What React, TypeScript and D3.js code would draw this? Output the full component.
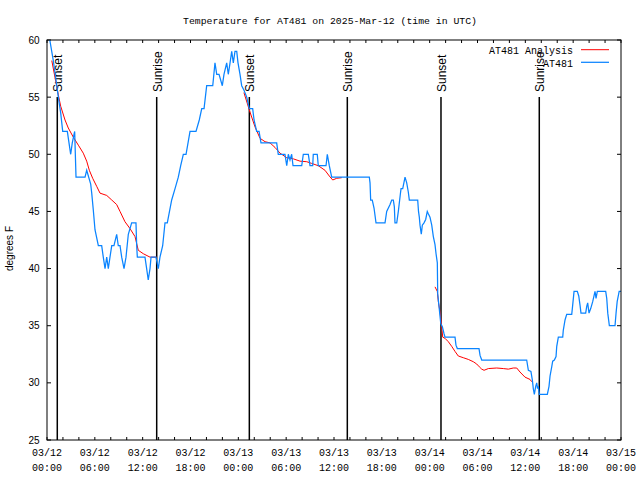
import React from 'react';
import * as d3 from 'd3';

// hours since 2025-03-12 00:00 UTC
const obsHours = [0.35,0.79,1.13,1.42,1.72,1.97,2.55,2.97,3.17,3.47,3.64,4.77,4.98,5.48,5.61,5.81,6.02,6.44,6.86,7.06,7.28,7.49,7.69,7.9,8.12,8.4,8.74,8.94,9.16,9.37,9.66,9.91,10.2,10.62,11.16,11.25,11.33,12.29,12.5,12.7,12.92,13.05,13.67,13.96,14.17,14.51,14.8,15.09,15.64,16.06,16.47,16.77,17.1,17.44,17.94,18.69,19.1,19.41,19.7,20.03,20.79,21.07,21.29,21.58,21.99,22.2,22.54,22.74,22.96,23.17,23.37,23.58,23.8,23.96,24.21,24.42,24.71,25.05,25.38,25.8,25.97,26.3,26.6,26.84,28.81,29.01,29.85,30.07,30.27,30.48,30.69,30.86,31.95,32.15,32.78,32.99,33.33,33.4,33.9,34.03,35.0,35.16,35.41,35.71,40.43,40.52,40.6,40.8,41.02,41.27,42.4,42.61,43.03,43.24,43.44,43.57,43.65,43.87,44.07,44.32,44.41,44.62,44.91,45.12,45.32,45.45,46.5,46.6,46.7,46.79,46.95,47.08,47.29,47.5,47.7,47.83,48.04,48.26,48.46,48.67,48.8,48.96,49.01,49.17,49.39,49.6,49.8,49.92,51.18,51.3,51.47,54.19,54.32,54.53,60.17,60.38,60.7,60.88,61.0,61.13,61.3,61.43,61.53,61.63,61.75,62.76,62.97,63.1,63.31,63.43,63.64,63.85,63.94,64.14,64.69,64.76,64.98,65.19,65.82,65.94,66.11,66.52,66.7,66.86,66.98,67.57,67.7,67.82,67.99,68.2,68.45,68.74,68.87,69.03,70.08,70.21,70.34,70.54,71.25,71.38,71.52,71.77,72];
const obsTemps = [60,58.2,56.5,55,53.6,52,52,50,51,52,48,48,48.6,47.4,46.6,45.1,43.4,42,42,41,40,41,40,41,42,42,43,42,42,41,40,41,43,44,44,42,41,41,40,39,40,41,41,40,41,42,44,44,46,47,48,49,50,50,52,52,53,54,54,56,56,58,57,57,56,57,58,57,58,59,58,59,59,58,57,56,55.6,55,54,54,53,52,52,51,51,50,50,49,50,49.5,50,49,49,50,50,49,49,50,50,49,49,50,49,48,48,47.5,46,46,45.3,44,44,45,45.6,46,46,45.4,44,44,45,46.5,47,47,48,47.5,46.7,46,46,45,44.5,43.8,43,43.8,44,44.3,45,44.8,44.5,43.8,42.8,42.1,41.3,40.5,37.8,36.7,35.2,34.9,34.3,34,34,33.3,33,33,32.4,32,32,31.1,31,30.25,29.5,29,29.7,30,29.5,29.7,29,29,29.7,30.6,31.4,31.9,32,32.3,33.2,34,34,34.6,35.5,36,36,36.8,38,38,37.6,36.8,36.1,36.1,36.7,37,36.1,36.5,37.1,38,37.4,38,38,37.4,36.1,35,35,36.1,37.1,38,38];

const anaHours = [0.6,1.42,1.72,2.26,2.67,3.3,3.93,4.55,4.98,5.31,5.73,6.23,6.65,7.49,8.12,8.74,9.16,9.78,10.41,11.04,11.45,12.08,12.92,13.76,
  null,
  24.7,25.46,26.09,26.72,27.35,27.97,28.6,29.23,30.07,30.9,31.74,32.58,33.2,34.03,34.87,35.41,35.84,36.34,36.97,
  null,
  48.67,48.96,49.09,49.3,49.42,49.55,49.64,49.92,50.34,50.76,51.18,51.59,52.22,52.85,53.47,53.9,54.23,54.53,54.82,55.36,56.41,57.24,57.87,58.49,58.92,59.33,59.96,60.59,60.8];
const anaTemps = [58.2,55.2,54.2,53,52.3,51.5,50.8,50.1,49.4,48.6,47.9,47.2,46.6,46.4,46.0,45.6,45.0,44.1,43.5,42.8,41.6,41.3,41.0,41.0,
  null,
  55.4,53.7,52.4,51.4,51.1,51.0,50.6,50.1,49.7,49.6,49.4,49.35,49.2,49.0,48.6,48.1,47.75,47.9,47.95,
  null,
  38.4,38.0,37.1,36.2,35.5,34.6,34.0,33.9,33.6,33.2,32.75,32.35,32.2,32.05,31.85,31.65,31.4,31.2,31.1,31.25,31.3,31.25,31.2,31.3,31.3,30.95,30.5,30.3,30.1];

const eventHours = [1.29, 13.76, 25.38, 37.67, 49.42, 61.75];
const eventLabels = ['Sunset', 'Sunrise', 'Sunset', 'Sunrise', 'Sunset', 'Sunrise'];

const yTicks = [25, 30, 35, 40, 45, 50, 55, 60];
const xLabelHours = [0, 6, 12, 18, 24, 30, 36, 42, 48, 54, 60, 66, 72];
const xMinorHours = d3.range(0, 73, 2);

const title = 'Temperature for AT481 on 2025-Mar-12 (time in UTC)';
const yTitle = 'degrees F';
const seriesNames = ['AT481 Analysis', 'AT481'];
const seriesColors = ['#ff0000', '#0a84ff'];

const pad = (n: number) => (n < 10 ? '0' + n : '' + n);

export default function App() {
  const W = 640, H = 480;
  const L = 47, R = 621, T = 40, B = 440;
  const x = d3.scaleLinear().domain([0, 72]).range([L, R]);
  const y = d3.scaleLinear().domain([25, 60]).range([B, T]);

  const obs = obsHours.map((h, i) => [h, obsTemps[i]] as [number, number]);
  const ana = anaHours.map((h, i) => [h, anaTemps[i]] as [number | null, number | null]);

  const line = d3.line<[number, number]>().x(d => x(d[0])).y(d => y(d[1]));
  const lineA = d3.line<[number | null, number | null]>()
    .defined(d => d[0] != null && d[1] != null)
    .x(d => x(d[0] as number)).y(d => y(d[1] as number));

  const mono = '"Liberation Mono", "DejaVu Sans Mono", monospace';
  const sans = '"Liberation Sans", Arial, sans-serif';

  return (
    <svg width={W} height={H} style={{ position: 'absolute', left: 0, top: 0, background: '#fff' }}>
      <defs>
        <clipPath id="plotclip"><rect x={L} y={T} width={R - L} height={B - T} /></clipPath>
      </defs>
      <rect x={0} y={0} width={W} height={H} fill="#fff" />
      <text x={330} y={24} textAnchor="middle" fontFamily={mono} fontSize={9.8} fill="#000">{title}</text>

      {xMinorHours.map(h => (
        <g key={'xt' + h}>
          <line x1={x(h)} x2={x(h)} y1={B} y2={B - 3} stroke="#000" strokeWidth={1} />
          <line x1={x(h)} x2={x(h)} y1={T} y2={T + 3} stroke="#000" strokeWidth={1} />
        </g>
      ))}
      {yTicks.map(v => (
        <g key={'yt' + v}>
          <line x1={L} x2={L + 4} y1={y(v)} y2={y(v)} stroke="#000" strokeWidth={1} />
          <line x1={R} x2={R - 4} y1={y(v)} y2={y(v)} stroke="#000" strokeWidth={1} />
          <text x={39.5} y={y(v) + 3.6} textAnchor="end" fontFamily={sans} fontSize={10} fill="#000">{v}</text>
        </g>
      ))}
      {xLabelHours.map(h => {
        const day = 12 + Math.floor(h / 24);
        const hr = h % 24;
        return (
          <g key={'xl' + h}>
            <text x={x(h)} y={456} textAnchor="middle" fontFamily={mono} fontSize={10} fill="#000">{'03/' + pad(day)}</text>
            <text x={x(h)} y={471} textAnchor="middle" fontFamily={mono} fontSize={10} fill="#000">{pad(hr) + ':00'}</text>
          </g>
        );
      })}
      <text transform={`translate(13,248.5) rotate(-90)`} textAnchor="middle" fontFamily={sans} fontSize={10} fill="#000">{yTitle}</text>

      {eventHours.map((h, i) => (
        <g key={'ev' + i}>
          <line x1={x(h)} x2={x(h)} y1={97} y2={B} stroke="#000" strokeWidth={1.5} />
          <text transform={`translate(${x(h) + 5},92) rotate(-90)`} textAnchor="start" fontFamily={sans} fontSize={12} fill="#000">{eventLabels[i]}</text>
        </g>
      ))}

      <g clipPath="url(#plotclip)">
        <path d={lineA(ana) || ''} fill="none" stroke={seriesColors[0]} strokeWidth={1} />
        <path d={line(obs) || ''} fill="none" stroke={seriesColors[1]} strokeWidth={1.25} />
      </g>

      <text x={573} y={54} textAnchor="end" fontFamily={mono} fontSize={10} fill="#000">{seriesNames[0]}</text>
      <line x1={581} x2={609} y1={49.7} y2={49.7} stroke={seriesColors[0]} strokeWidth={1} />
      <text x={573} y={67} textAnchor="end" fontFamily={mono} fontSize={10} fill="#000">{seriesNames[1]}</text>
      <line x1={581} x2={609} y1={62.3} y2={62.3} stroke={seriesColors[1]} strokeWidth={1.25} />

      <rect x={L} y={T} width={R - L} height={B - T} fill="none" stroke="#000" strokeWidth={1} />
    </svg>
  );
}
